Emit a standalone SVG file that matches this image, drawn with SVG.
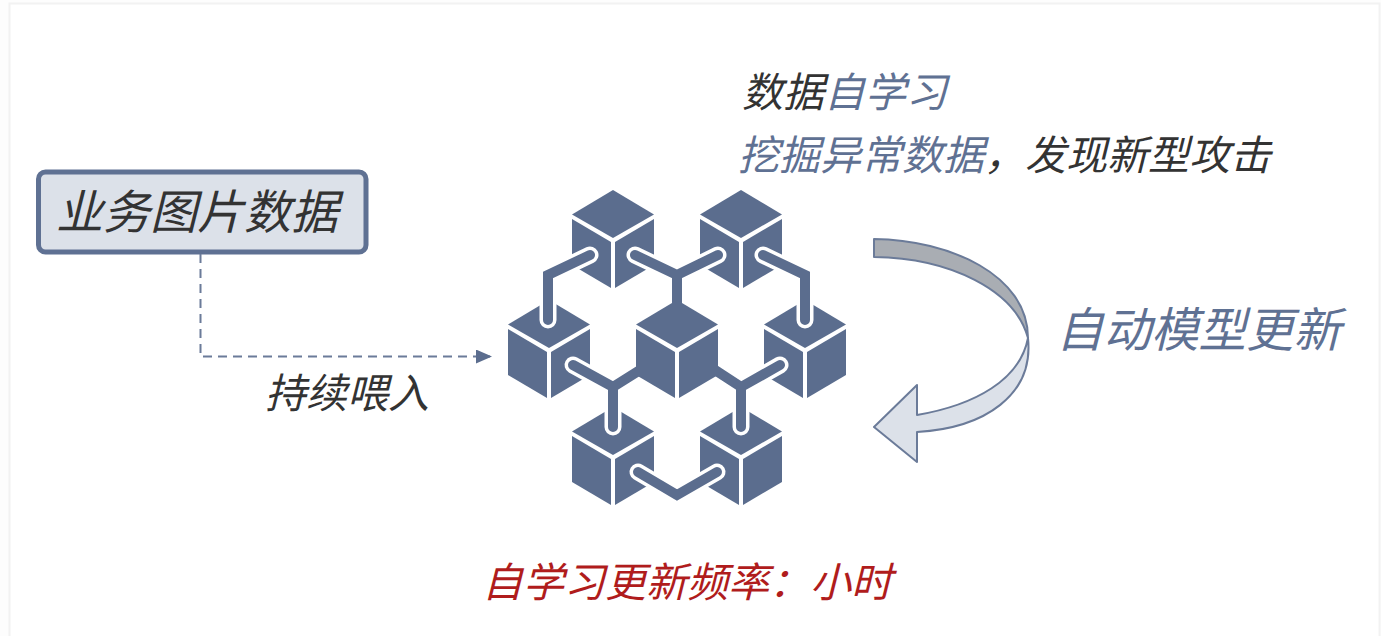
<svg xmlns="http://www.w3.org/2000/svg" width="1381" height="636" viewBox="0 0 1381 636">
<style>
text{font-family:"Noto Sans CJK SC","Noto Sans",sans-serif;font-style:italic;font-weight:400;fill:#333}
.b{fill:#5b6d8e}
.halo{fill:none;stroke:#fff;stroke-width:17;stroke-linejoin:round;stroke-linecap:round}
.link{fill:none;stroke:#5b6d8e;stroke-width:10;stroke-linejoin:miter;stroke-linecap:round}
</style>
<defs>
<g id="cube" class="b">
<polygon points="0,0 41,24.500 0,48 -41,24.500"/>
<polygon points="-41,29 -2,52 -2,98 -41,75"/>
<polygon points="2,52 41,29 41,75 2,98"/>
</g>
<marker id="ah" markerWidth="16" markerHeight="16" refX="14" refY="7" orient="auto" markerUnits="userSpaceOnUse"><polygon points="0,0 16,7 0,14" fill="#5b6d8e"/></marker>
</defs>
<rect x="0" y="0" width="1381" height="636" fill="#fdfdfd"/>
<rect x="9.500" y="3.500" width="1370" height="640" fill="#fff" stroke="#f2f2f2" stroke-width="2"/>
<g id="source-node">
<rect x="38.500" y="172" width="327.500" height="80" rx="7" fill="#dce1e9" stroke="#5f7193" stroke-width="5"/>
<text x="197" y="229" font-size="47" text-anchor="middle">业务图片数据</text>
</g>
<g id="connectors">
<path d="M200.500 254V356.500H490" fill="none" stroke="#6b7b99" stroke-width="2" stroke-dasharray="9 6" marker-end="url(#ah)"/>
</g>
<text id="feed-label" x="347" y="408" font-size="41" text-anchor="middle">持续喂入</text>
<g id="blockchain">
<use href="#cube" x="613" y="190"/><use href="#cube" x="741" y="190"/>
<use href="#cube" x="549" y="300"/><use href="#cube" x="805" y="300"/>
<use href="#cube" x="613" y="407"/><use href="#cube" x="741" y="407"/>
<g class="halo">
<path d="M590 255L548 275V320"/><path d="M635 255L677 275L718 255"/><path d="M763 255L805 275V320"/>
<path d="M573 365L613 387L640 370M613 387V427"/><path d="M780 365L741 387L715 370M741 387V427"/>
<path d="M638 472L677 495L717 472"/>
</g>
<g class="link">
<path d="M590 255L548 275V320"/><path d="M635 255L677 275L718 255M677 275V305"/><path d="M763 255L805 275V320"/>
<path d="M573 365L613 387L640 370M613 387V427"/><path d="M780 365L741 387L715 370M741 387V427"/>
<path d="M638 472L677 495L717 472"/>
</g>
<use href="#cube" x="677" y="300"/>
</g>
<g id="update-arrow" stroke="#6b7b99" stroke-width="2" stroke-linejoin="round">
<path d="M874 239C950 240 1028 275 1028 338C1015 290 950 258 874 257Z" fill="#a9adb3"/>
<path d="M1028 338C1034 395 985 428 917 432V462L874 427L917 385V415C975 405 1020 380 1028 338Z" fill="#dce1e9"/>
</g>
<text id="self-learn-1" x="742" y="107" font-size="41">数据<tspan style="fill:#5f7193">自学习</tspan></text>
<text id="self-learn-2" x="738" y="170" font-size="41"><tspan style="fill:#5f7193">挖掘异常数据</tspan>，发现新型攻击</text>
<text id="auto-update" x="1056" y="347" font-size="47.500" style="fill:#5f7193">自动模型更新</text>
<text id="frequency" x="482" y="597" font-size="41" style="fill:#b01c1c">自学习更新频率：小时</text>
</svg>
